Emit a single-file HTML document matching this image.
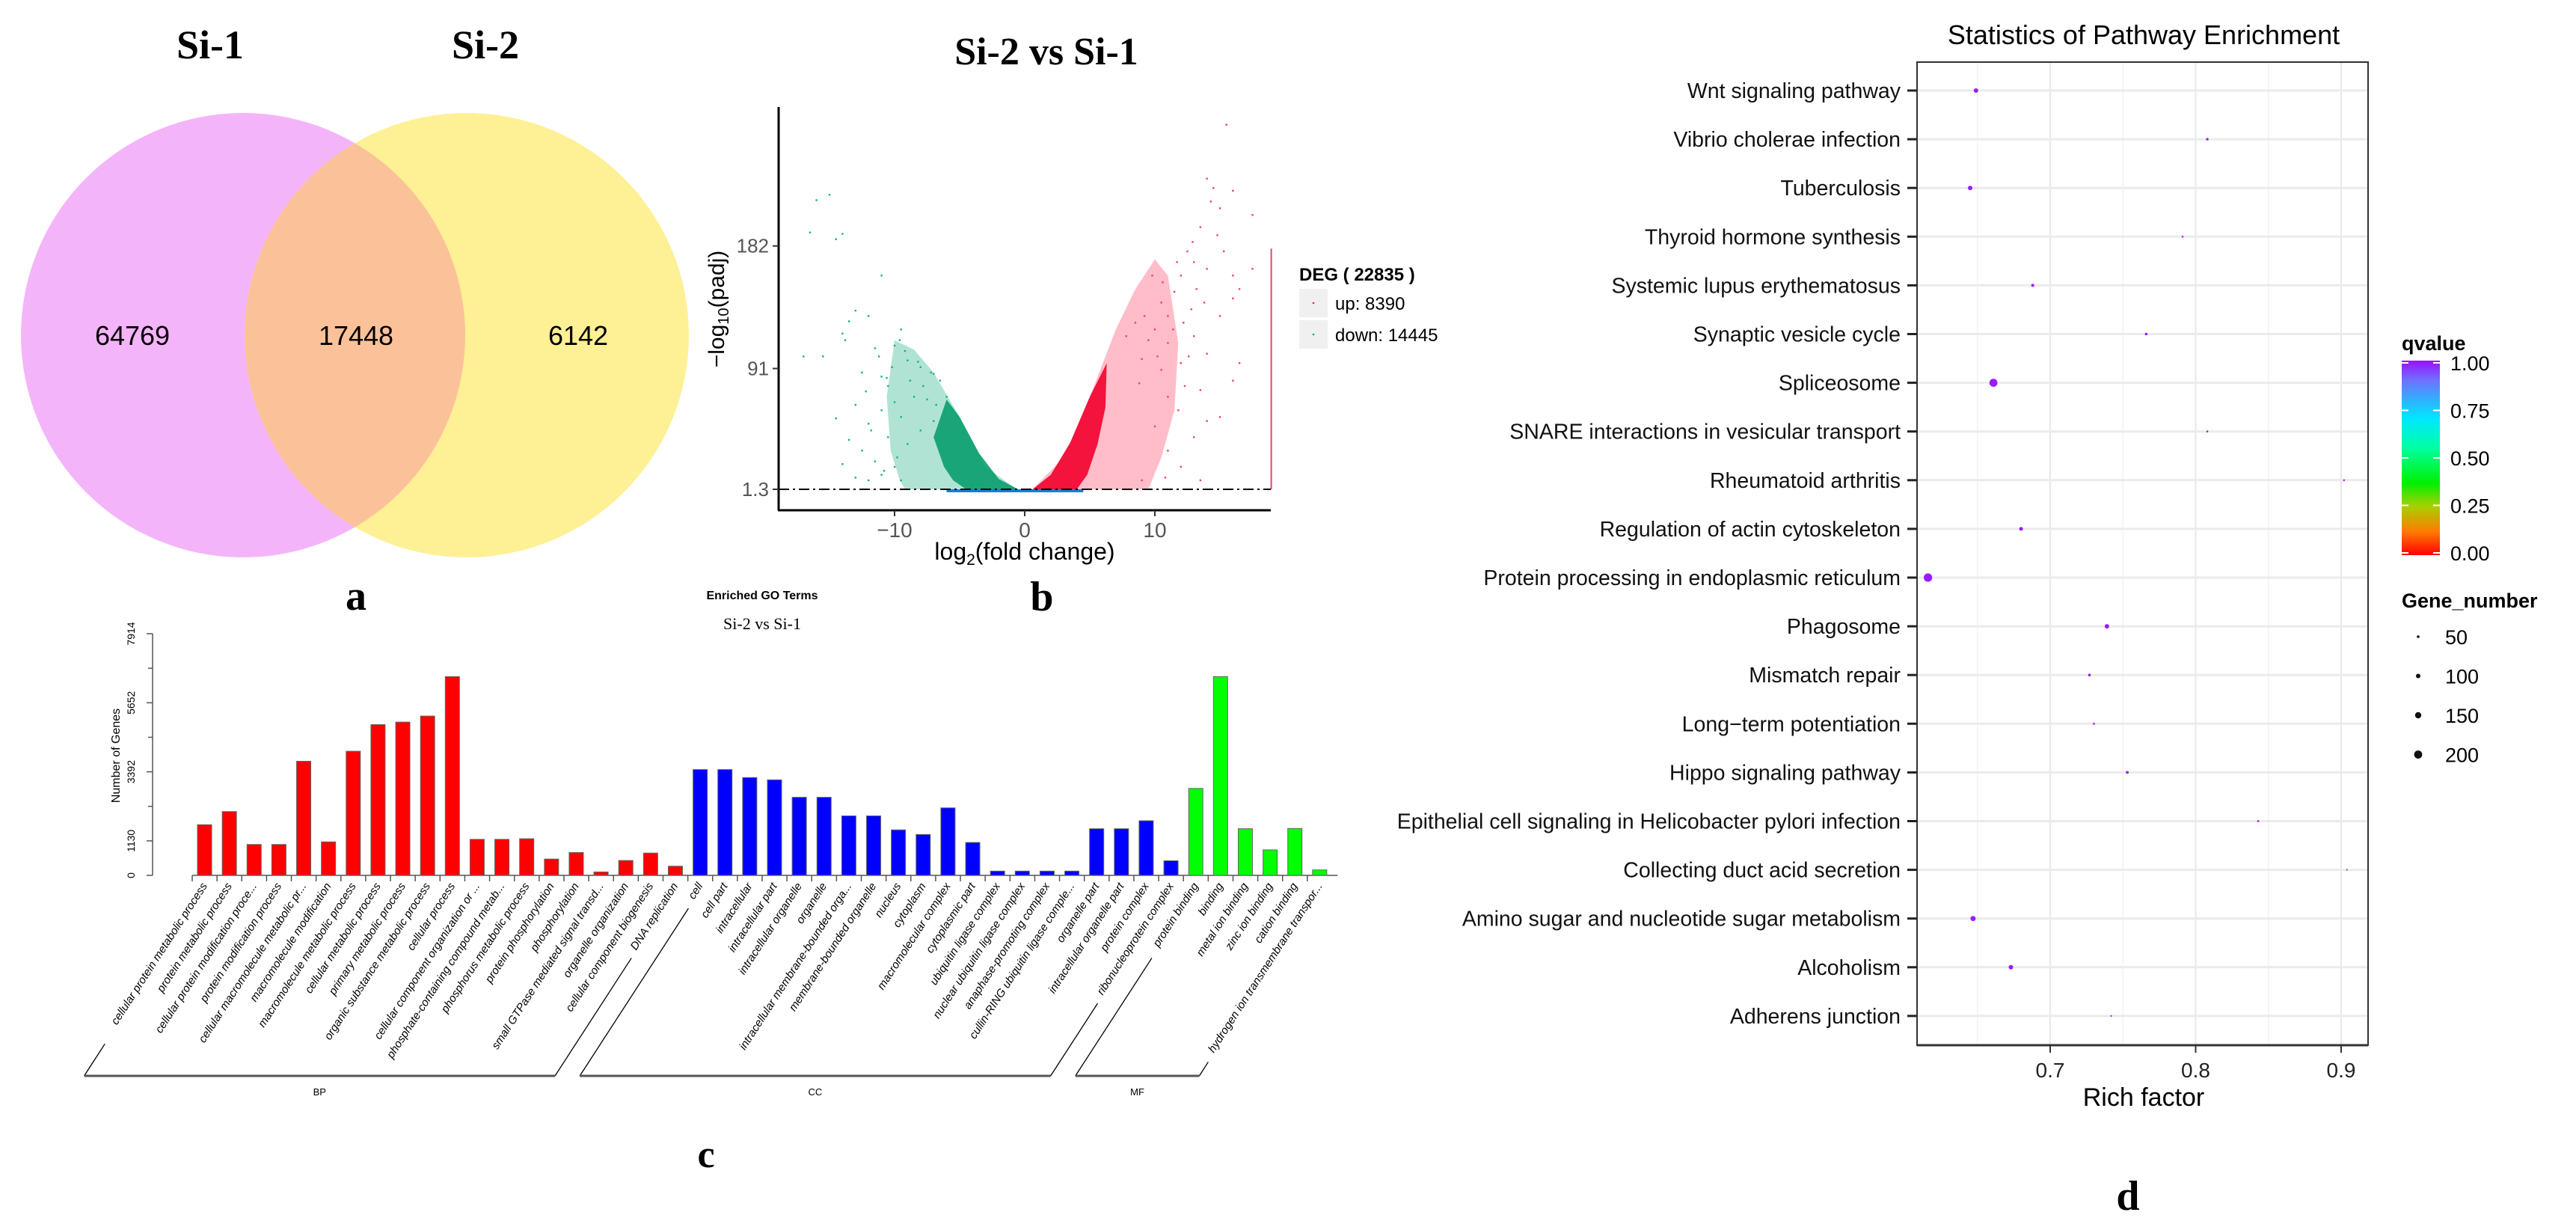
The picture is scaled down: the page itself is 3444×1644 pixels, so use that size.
<!DOCTYPE html>
<html><head><meta charset="utf-8"><style>
html,body{margin:0;padding:0;background:#fff}
svg{display:block}
text{font-family:"Liberation Sans",sans-serif}
.serif{font-family:"Liberation Serif",serif;font-weight:bold}
</style></head><body>
<svg id="fig" width="3444" height="1644" viewBox="0 0 3444 1644" xmlns="http://www.w3.org/2000/svg">
<rect width="3444" height="1644" fill="#fff"/>
<g id="venn">
  <defs><clipPath id="clipL"><circle cx="325" cy="448" r="297"/></clipPath></defs>
  <circle cx="325" cy="448" r="297" fill="#f4b4fa"/>
  <circle cx="624" cy="448" r="297" fill="#fef095"/>
  <circle cx="624" cy="448" r="297" fill="#fbc29a" clip-path="url(#clipL)"/>
  <text class="serif" x="281" y="78" font-size="54" text-anchor="middle">Si-1</text>
  <text class="serif" x="649" y="78" font-size="54" text-anchor="middle">Si-2</text>
  <text x="177" y="461" font-size="36" text-anchor="middle">64769</text>
  <text x="476" y="461" font-size="36" text-anchor="middle">17448</text>
  <text x="773" y="461" font-size="36" text-anchor="middle">6142</text>
  <text class="serif" x="476" y="815" font-size="56" text-anchor="middle">a</text>
</g>
<g id="volcano">
  <text class="serif" x="1399" y="86" font-size="52" text-anchor="middle">Si-2 vs Si-1</text>
  <g id="vEnv"></g><g id="vPts"></g>
  <line x1="1041" y1="654" x2="1699" y2="654" stroke="#000" stroke-width="2" stroke-dasharray="14,5,3,5"/>
  <line x1="1041" y1="143" x2="1041" y2="682" stroke="#000" stroke-width="3"/>
  <line x1="1040" y1="682" x2="1699" y2="682" stroke="#000" stroke-width="3"/>
  <g id="vAxes"></g>
  <text transform="translate(968,413) rotate(-90)" font-size="30" text-anchor="middle">−log<tspan font-size="20" dy="6">10</tspan><tspan dy="-6">(padj)</tspan></text>
  <text x="1370" y="748" font-size="32" text-anchor="middle">log<tspan font-size="21" dy="7">2</tspan><tspan dy="-7">(fold change)</tspan></text>
  <g>
    <text x="1737" y="375" font-size="24" font-weight="bold">DEG ( 22835 )</text>
    <rect x="1737" y="386" width="38" height="38" fill="#f0f0f0"/>
    <circle cx="1756" cy="405" r="1.3" fill="#f0204a"/>
    <text x="1785" y="414" font-size="24">up: 8390</text>
    <rect x="1737" y="428" width="38" height="38" fill="#f0f0f0"/>
    <circle cx="1756" cy="447" r="1.3" fill="#10a080"/>
    <text x="1785" y="456" font-size="24">down: 14445</text>
  </g>
  <text class="serif" x="1393" y="816" font-size="56" text-anchor="middle">b</text>
</g>
<g id="go">
  <text x="1019" y="801" font-size="16" font-weight="bold" text-anchor="middle">Enriched GO Terms</text>
  <text x="1019" y="841" font-size="22" text-anchor="middle" style="font-family:'Liberation Serif',serif">Si-2 vs Si-1</text>
  <text transform="translate(160,1010) rotate(-90)" font-size="16" text-anchor="middle">Number of Genes</text>
  <g id="goAxes"></g><g id="goBars"></g><g id="goLabels"></g><g id="goBrackets"></g>
  <text class="serif" x="944" y="1560" font-size="52" text-anchor="middle">c</text>
</g>
<g id="kegg">
  <text x="2866" y="59" font-size="36" text-anchor="middle">Statistics of Pathway Enrichment</text>
  <g id="kGrid"></g>
  <rect x="2563" y="83" width="603" height="1314" fill="none" stroke="#333" stroke-width="2"/>
  <g id="kAxes"></g><g id="kPts"></g>
  <text x="2866" y="1478" font-size="34" text-anchor="middle">Rich factor</text>
  <g>
    <defs><linearGradient id="qgrad" x1="0" y1="1" x2="0" y2="0">
      <stop offset="0" stop-color="#ff0000"/><stop offset="0.12" stop-color="#ff7a00"/><stop offset="0.25" stop-color="#a8d000"/>
      <stop offset="0.37" stop-color="#00f000"/><stop offset="0.55" stop-color="#00ffa0"/><stop offset="0.7" stop-color="#00e8ff"/>
      <stop offset="0.8" stop-color="#30b0ff"/><stop offset="0.9" stop-color="#7070ff"/><stop offset="1" stop-color="#9a10ff"/>
    </linearGradient></defs>
    <text x="3211" y="468" font-size="27" font-weight="bold">qvalue</text>
    <rect x="3211" y="482" width="51" height="260" fill="url(#qgrad)"/>
    <g id="qTicks"></g>
    <text x="3211" y="812" font-size="27" font-weight="bold">Gene_number</text>
    <g id="sizeLegend"></g>
  </g>
  <text class="serif" x="2845" y="1617" font-size="56" text-anchor="middle">d</text>
</g>
</svg>
<script>
const NS="http://www.w3.org/2000/svg";
function mk(tag,attrs,parent,txt){const e=document.createElementNS(NS,tag);for(const k in attrs)e.setAttribute(k,attrs[k]);if(txt!==undefined)e.textContent=txt;parent.appendChild(e);return e;}

/* ---------- Volcano data ---------- */
const vXTicks=[-10,0,10];
const vYTicks=[1.3,91,182];
const downLfc=[-16,-15,-16.5,-14.5,-14,-11,-13,-13.5,-12,-14,-13.8,-11.5,-9.5,-10,-9,-17,-15.5,-12.5,-11,-8,-7,-6.5,-10.5,-13,-14.5,-12,-11,-10,-9.5,-8.5,-7.5,-12.5,-13.5,-11.5,-10.5,-9,-8,-7,-6,-11,-10,-9.5,-12,-14,-13,-8.8,-7.8,-6.8,-5.8,-9.8,-10.8,-11.8,-11.2,-10.2,-9.2,-8.2,-7.2,-12.2,-10.6,-9.6];
const downPadj=[216,220,192,187,191,160,134,126,130,117,112,106,120,108,97,100,100,88,85,92,87,82,78,64,54,50,60,66,55,70,68,30,38,22,40,35,45,52,70,12,18,8,8,20,10,82,78,64,60,25,15,45,100,92,104,96,88,74,84,112];
const upLfc=[15.5,14,14.5,15,14.3,16,17.5,15.3,14.8,13.5,12.5,13,14,16,17.5,16.5,12,11.5,10.5,11,12.8,15,16,10,9.5,11,13,14,12,9,10.5,12.3,13.5,11,15,14,13,12,11,10,13.5,10.8,9,16.5,16,9.2,8.5,10.2,11.8,12.6,13.8,7.8,8.8,11.4,12.2,10.6,9.8,13.2,12.9,11.7];
const upPadj=[272,232,225,210,215,223,205,178,190,196,178,170,165,160,165,150,160,148,140,130,135,130,143,120,112,110,115,102,95,98,90,78,75,70,55,52,40,18,30,48,8,10,8,95,82,130,125,100,60,100,140,115,80,120,125,155,160,150,185,170];
const downEnvLfc=[-0.6,-3,-5,-7,-8.5,-10,-10.6,-10.3,-9.6,-9.2];
const downEnvPadj=[1.3,18,55,88,105,112,70,30,8,1.3];
const downCoreLfc=[-0.5,-2,-3.5,-5,-6,-7,-6.2,-5.5,-4.5];
const downCorePadj=[1.3,9,28,55,68,40,18,8,1.3];
const upEnvLfc=[0.6,3,5,7,8.5,10,11,11.8,11.5,10.5,9.5];
const upEnvPadj=[1.3,25,70,120,150,172,160,110,60,25,1.3];
const upCoreLfc=[0.6,2,3.5,5,6.3,6.2,5.6,4.8,4];
const upCorePadj=[1.3,12,36,70,95,62,35,12,1.3];
const nsLfc=[-6,4.5];
const edgeLfc=19, edgeTop=180;
const vx=l=>1370+l*17.4, vy=p=>654-(p-1.3)*1.8;
(function(){
 const env=document.getElementById('vEnv'),pts=document.getElementById('vPts'),ax=document.getElementById('vAxes');
 function poly(L,P,fill,op,name){const pt=L.map((l,i)=>vx(l)+','+vy(P[i])).join(' ');const e=mk('polygon',{points:pt,fill:fill,'fill-opacity':op},env);
  
  }
 poly(downEnvLfc,downEnvPadj,'#3cb896',0.4,'down-density');
 poly(downCoreLfc,downCorePadj,'#009a68',0.85,'down-core-density');
 poly(upEnvLfc,upEnvPadj,'#ff5a78',0.4,'up-density');
 poly(upCoreLfc,upCorePadj,'#f2002e',0.9,'up-core-density');
 const nse=mk('rect',{x:vx(nsLfc[0]),y:vy(1.3),width:vx(nsLfc[1])-vx(nsLfc[0]),height:4,fill:'#1a7fd8'},env);
 
 
 const edge=mk('line',{x1:vx(edgeLfc)-1,x2:vx(edgeLfc)-1,y1:vy(edgeTop),y2:vy(1.3),stroke:'#f0406a','stroke-width':2},env);
 
 
 downLfc.forEach((l,i)=>{const c=mk('rect',{x:vx(l)-1.2,y:vy(downPadj[i])-1.2,width:2.4,height:2.4,fill:'#12b08c'},pts);
  
  });
 upLfc.forEach((l,i)=>{const c=mk('rect',{x:vx(l)-1.2,y:vy(upPadj[i])-1.2,width:2.4,height:2.4,fill:'#f0406a'},pts);
  
  });
 vXTicks.forEach(t=>{mk('line',{x1:vx(t),x2:vx(t),y1:682,y2:690,stroke:'#333','stroke-width':2},ax);
  const tx=mk('text',{x:vx(t),y:718,'font-size':28,fill:'#555','text-anchor':'middle'},ax,t<0?'−'+(-t):String(t));
  
  });
 vYTicks.forEach(t=>{mk('line',{x1:1033,x2:1041,y1:vy(t),y2:vy(t),stroke:'#333','stroke-width':2},ax);
  const tx=mk('text',{x:1028,y:vy(t)+9,'font-size':26,fill:'#555','text-anchor':'end'},ax,String(t));
  
  });
})();

/* ---------- GO bar data ---------- */
const goTerms=["cellular protein metabolic process","protein metabolic process","cellular protein modification proce...","protein modification process","cellular macromolecule metabolic pr...","macromolecule modification","macromolecule metabolic process","cellular metabolic process","primary metabolic process","organic substance metabolic process","cellular process","cellular component organization or ...","phosphate-containing compound metab...","phosphorus metabolic process","protein phosphorylation","phosphorylation","small GTPase mediated signal transd...","organelle organization","cellular component biogenesis","DNA replication",
"cell","cell part","intracellular","intracellular part","intracellular organelle","organelle","intracellular membrane-bounded orga...","membrane-bounded organelle","nucleus","cytoplasm","macromolecular complex","cytoplasmic part","ubiquitin ligase complex","nuclear ubiquitin ligase complex","anaphase-promoting complex","cullin-RING ubiquitin ligase comple...","organelle part","intracellular organelle part","protein complex","ribonucleoprotein complex",
"protein binding","binding","metal ion binding","zinc ion binding","cation binding","hydrogen ion transmembrane transpor..."];
const goCounts=[1658,2089,1012,1012,3737,1096,4065,4936,5020,5217,6509,1180,1180,1199,534,749,112,487,730,300,
3465,3465,3203,3128,2557,2557,1948,1948,1489,1339,2210,1077,140,140,140,140,1527,1527,1789,478,
2847,6509,1527,834,1536,178];
const goGroups=["BP","CC","MF"];
const goGroupSizes=[20,20,6];
const goYTicks=[0,1130,3392,5652,7914];
const goColors={BP:'#ff0000',CC:'#0000ff',MF:'#00ff00'};
const gx=i=>273.5+i*33.13, gy=v=>1170-v*(323/7914);
(function(){
 const ax=document.getElementById('goAxes'),bars=document.getElementById('goBars'),lab=document.getElementById('goLabels'),br=document.getElementById('goBrackets');
 mk('line',{x1:204,x2:204,y1:gy(7914),y2:1170,stroke:'#555','stroke-width':1.5},ax);
 goYTicks.forEach(t=>{mk('line',{x1:196,x2:204,y1:gy(t),y2:gy(t),stroke:'#555','stroke-width':1.5},ax);
  const tx=mk('text',{transform:`translate(180,${gy(t)}) rotate(-90)`,'font-size':14,'text-anchor':'middle'},ax,String(t));
  
  });
 for(let k=0;k<goYTicks.length-2;k++){const m=(goYTicks[k+1]+goYTicks[k+2])/2;mk('line',{x1:198,x2:204,y1:gy(m),y2:gy(m),stroke:'#555','stroke-width':1.5},ax);}
 const n=goTerms.length;
 mk('line',{x1:gx(0)-16.5,x2:gx(n-1)+24,y1:1170,y2:1170,stroke:'#555','stroke-width':1.5},ax);
 const ang=57*Math.PI/180;
 const groupOf=[];goGroups.forEach((g,gi)=>{for(let j=0;j<goGroupSizes[gi];j++)groupOf.push(g);});
 goTerms.forEach((t,i)=>{
  const g=groupOf[i];
  mk('line',{x1:gx(i)-16.5,x2:gx(i)-16.5,y1:1170,y2:1178,stroke:'#555','stroke-width':1.5},ax);
  const b=mk('rect',{x:gx(i)-9.5,y:gy(goCounts[i]),width:19,height:1170-gy(goCounts[i]),fill:goColors[g],stroke:'#666','stroke-width':1},bars);
  
  
  const tx=mk('text',{transform:`translate(${gx(i)+4},1184) rotate(-57)`,'font-size':15,'font-style':'italic','text-anchor':'end'},lab,t);
  
  
 });
 let start=0;
 goGroups.forEach((g,gi)=>{
  const a=start,z=start+goGroupSizes[gi]-1;start+=goGroupSizes[gi];
  const xa=gx(a)+4-(1438-1184)/Math.tan(ang), xz=gx(z)+4-(1438-1184)/Math.tan(ang);
  const la=goTerms[a].length*7.2, lz=goTerms[z].length*7.2;
  mk('line',{x1:gx(a)+4-la*Math.cos(ang)-4,y1:1184+la*Math.sin(ang)+6,x2:xa,y2:1438,stroke:'#000','stroke-width':1.3},br);
  mk('line',{x1:gx(z)+4-lz*Math.cos(ang)-4,y1:1184+lz*Math.sin(ang)+6,x2:xz,y2:1438,stroke:'#000','stroke-width':1.3},br);
  const h=mk('line',{x1:xa,x2:xz,y1:1438,y2:1438,stroke:'#555','stroke-width':3},br);
  
  
  const tx=mk('text',{x:(xa+xz)/2,y:1464,'font-size':13,'text-anchor':'middle'},br,g);
  
  
 });
})();

/* ---------- KEGG data ---------- */
const kPathways=["Wnt signaling pathway","Vibrio cholerae infection","Tuberculosis","Thyroid hormone synthesis","Systemic lupus erythematosus","Synaptic vesicle cycle","Spliceosome","SNARE interactions in vesicular transport","Rheumatoid arthritis","Regulation of actin cytoskeleton","Protein processing in endoplasmic reticulum","Phagosome","Mismatch repair","Long−term potentiation","Hippo signaling pathway","Epithelial cell signaling in Helicobacter pylori infection","Collecting duct acid secretion","Amino sugar and nucleotide sugar metabolism","Alcoholism","Adherens junction"];
const kRich=[0.649,0.808,0.645,0.791,0.688,0.766,0.661,0.808,0.902,0.680,0.616,0.739,0.727,0.730,0.753,0.843,0.904,0.647,0.673,0.742];
const kGenes=[100,45,100,30,60,50,200,30,30,80,210,100,50,35,55,35,20,120,100,25];
const kQ=[1,1,1,0.98,1,1,1,1,0.99,1,1,1,1,0.99,1,0.99,0.98,1,1,0.98];
const kXTicks=[0.7,0.8,0.9];
const kXMinor=[0.65,0.75,0.85];
const qTicks=[0,0.25,0.5,0.75,1];
const sizeKeys=[50,100,150,200];
const kx=v=>2741+(v-0.7)*1945, ky=i=>121+i*65.1, kr=n=>0.6+n*0.024;
const qcol=q=>q>=0.995?'#9a1cff':'#b030f0';
(function(){
 const gr=document.getElementById('kGrid'),ax=document.getElementById('kAxes'),pts=document.getElementById('kPts');
 kXMinor.forEach(v=>mk('line',{x1:kx(v),x2:kx(v),y1:84,y2:1396,stroke:'#f2f2f2','stroke-width':1.5},gr));
 kXTicks.forEach(v=>mk('line',{x1:kx(v),x2:kx(v),y1:84,y2:1396,stroke:'#e8e8e8','stroke-width':2},gr));
 kPathways.forEach((p,i)=>{
  mk('line',{x1:2563,x2:3166,y1:ky(i),y2:ky(i),stroke:'#ebebeb','stroke-width':3},gr);
  mk('line',{x1:2550,x2:2563,y1:ky(i),y2:ky(i),stroke:'#222','stroke-width':3},ax);
  const tx=mk('text',{x:2541,y:ky(i)+10,'font-size':28.5,'text-anchor':'end',fill:'#111'},ax,p);
  
  
  const c=mk('circle',{cx:kx(kRich[i]),cy:ky(i),r:kr(kGenes[i]),fill:qcol(kQ[i])},pts);
  
  
 });
 mk('line',{x1:2563,x2:3166,y1:1397,y2:1397,stroke:'#333','stroke-width':3},ax);
 kXTicks.forEach(v=>{mk('line',{x1:kx(v),x2:kx(v),y1:1397,y2:1407,stroke:'#333','stroke-width':2},ax);
  const tx=mk('text',{x:kx(v),y:1440,'font-size':28,'text-anchor':'middle',fill:'#222'},ax,String(v));
  
  });
 const qt=document.getElementById('qTicks');
 qTicks.forEach(q=>{const y=742-q*254-3;
  mk('line',{x1:3211,x2:3220,y1:y,y2:y,stroke:'#fff','stroke-width':2},qt);
  mk('line',{x1:3253,x2:3262,y1:y,y2:y,stroke:'#fff','stroke-width':2},qt);
  const tx=mk('text',{x:3276,y:y+10,'font-size':27},qt,q.toFixed(2));
  
  });
 const sl=document.getElementById('sizeLegend');
 sizeKeys.forEach((s,i)=>{const y=851+i*52.5;
  const c=mk('circle',{cx:3233,cy:y,r:kr(s),fill:'#111'},sl);
  
  
  const tx=mk('text',{x:3269,y:y+10,'font-size':27},sl,String(s));
  
  });
})();
</script>
</body></html>
